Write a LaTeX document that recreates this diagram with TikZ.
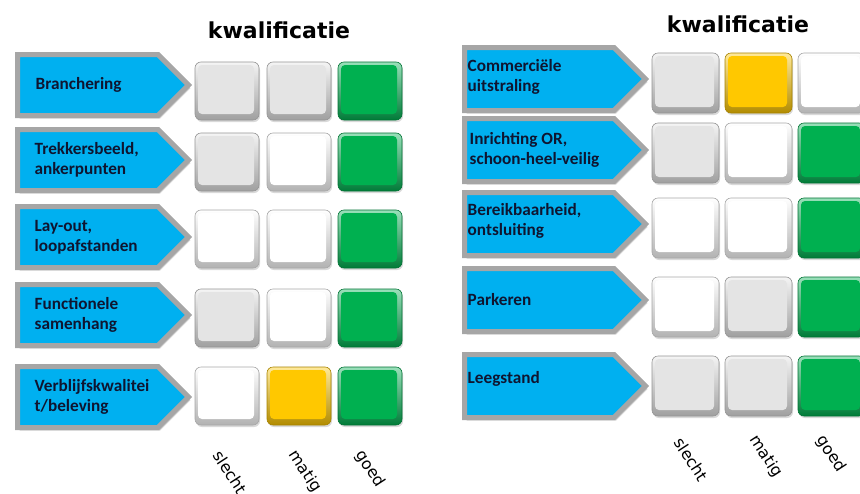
\documentclass[tikz,border=0pt]{standalone}
\usepackage{fontspec}
\setmainfont{Carlito}
\newfontfamily\kopfont{DejaVu Sans}
\usetikzlibrary{shapes.symbols, shadows, positioning}

\definecolor{pijlblauw}{HTML}{00B0F0}
\definecolor{randgrijs}{HTML}{A6A6A6}
\definecolor{tekstblauw}{HTML}{0F1530}
\definecolor{vakgrijs}{HTML}{E4E4E4}
\definecolor{vakwit}{HTML}{FFFFFF}
\definecolor{vakgeel}{HTML}{FFC800}
\definecolor{vakgroen}{HTML}{00B050}

\tikzset{
  pijl/.style={signal, signal to=east, signal pointer angle=90, draw=randgrijs,
    line width=5pt, fill=pijlblauw, inner sep=0pt, outer sep=0pt, anchor=west,
    drop shadow={shadow xshift=2pt, shadow yshift=-3pt, opacity=0.35}},
  pijltekst/.style={anchor=west, align=left, inner sep=0pt, text=tekstblauw,
    font=\bfseries\fontsize{17.2}{20}\selectfont},
  vak/.style={rounded corners=6pt, inner sep=0pt, outer sep=0pt,
    top color=#1!40!white, bottom color=#1!70!black, draw=#1!65!black, line width=0.6pt,
    drop shadow={shadow xshift=1pt, shadow yshift=-2pt, opacity=0.3},
    path picture={\fill[#1, rounded corners=4pt]
      ([shift={(3pt,-3pt)}]path picture bounding box.north west) rectangle
      ([shift={(-5pt,6pt)}]path picture bounding box.south east);}},
  linksvak/.style={vak=#1, minimum width=64pt, minimum height=58pt},
  rechtsvak/.style={vak=#1, minimum width=67pt, minimum height=60pt},
  kop/.style={font=\kopfont\bfseries\fontsize{22}{26}\selectfont, text=black},
  schaal/.style={font=\kopfont\fontsize{16}{19}\selectfont, rotate=-57,
    anchor=west, inner sep=0pt, text=black}
}

\begin{document}
\begin{tikzpicture}[x=1pt, y=-1pt]
    \useasboundingbox (0,0) rectangle (860,493);

    % Koppen
    \node[kop] (kopL) at (279,30) {kwalificatie};
    \node[kop] (kopR) at (738,24) {kwalificatie};

    % Criteria links
    \node[pijl, minimum width=171pt, minimum height=61pt,
      label={[pijltekst, xshift=18pt]west:Branchering}] (branchering) at (17.5,85) {};
    \node[pijl, minimum width=171pt, minimum height=61pt,
      label={[pijltekst, xshift=17pt]west:Trekkersbeeld,\\ankerpunten}] (trekkers) at (17.5,160) {};
    \node[pijl, minimum width=171pt, minimum height=61pt,
      label={[pijltekst, xshift=17pt]west:Lay-out,\\loopafstanden}] (layout) at (17.5,237) {};
    \node[pijl, minimum width=171pt, minimum height=61pt,
      label={[pijltekst, xshift=17pt]west:Functionele\\samenhang}] (functioneel) at (17.5,315) {};
    \node[pijl, minimum width=171pt, minimum height=61pt,
      label={[pijltekst, xshift=17pt]west:Verblijfskwalitei\\t/beleving}] (verblijf) at (17.5,397) {};

    % Criteria rechts
    \node[pijl, minimum width=181pt, minimum height=63pt,
      label={[pijltekst, xshift=3pt, yshift=2pt]west:Commerciële\\uitstraling}] (commercieel) at (464.5,79) {};
    \node[pijl, minimum width=181pt, minimum height=63pt,
      label={[pijltekst, xshift=5pt]west:Inrichting OR,\\schoon-heel-veilig}] (inrichting) at (464.5,150) {};
    \node[pijl, minimum width=181pt, minimum height=63pt,
      label={[pijltekst, xshift=3pt, yshift=3pt]west:Bereikbaarheid,\\ontsluiting}] (bereik) at (464.5,224) {};
    \node[pijl, minimum width=181pt, minimum height=63pt,
      label={[pijltekst, xshift=3pt]west:Parkeren}] (parkeren) at (464.5,300) {};
    \node[pijl, minimum width=181pt, minimum height=63pt,
      label={[pijltekst, xshift=3pt, yshift=7pt]west:Leegstand}] (leegstand) at (464.5,386) {};

    % Scores links
    \node[linksvak=vakgrijs] (branchering-s) at (227,91) {};
    \node[linksvak=vakgrijs, right=8pt of branchering-s] (branchering-m) {};
    \node[linksvak=vakgroen, right=7pt of branchering-m] (branchering-g) {};

    \node[linksvak=vakgrijs] (trekkers-s) at (227,162) {};
    \node[linksvak=vakwit, right=8pt of trekkers-s] (trekkers-m) {};
    \node[linksvak=vakgroen, right=7pt of trekkers-m] (trekkers-g) {};

    \node[linksvak=vakwit] (layout-s) at (227,239) {};
    \node[linksvak=vakwit, right=8pt of layout-s] (layout-m) {};
    \node[linksvak=vakgroen, right=7pt of layout-m] (layout-g) {};

    \node[linksvak=vakgrijs] (functioneel-s) at (227,318) {};
    \node[linksvak=vakwit, right=8pt of functioneel-s] (functioneel-m) {};
    \node[linksvak=vakgroen, right=7pt of functioneel-m] (functioneel-g) {};

    \node[linksvak=vakwit] (verblijf-s) at (227,396) {};
    \node[linksvak=vakgeel, right=8pt of verblijf-s] (verblijf-m) {};
    \node[linksvak=vakgroen, right=7pt of verblijf-m] (verblijf-g) {};

    % Scores rechts
    \node[rechtsvak=vakgrijs] (commercieel-s) at (685.5,83) {};
    \node[rechtsvak=vakgeel, right=6pt of commercieel-s] (commercieel-m) {};
    \node[rechtsvak=vakwit, right=6pt of commercieel-m] (commercieel-g) {};

    \node[rechtsvak=vakgrijs] (inrichting-s) at (685.5,153) {};
    \node[rechtsvak=vakwit, right=6pt of inrichting-s] (inrichting-m) {};
    \node[rechtsvak=vakgroen, right=6pt of inrichting-m] (inrichting-g) {};

    \node[rechtsvak=vakwit] (bereik-s) at (685.5,228) {};
    \node[rechtsvak=vakwit, right=6pt of bereik-s] (bereik-m) {};
    \node[rechtsvak=vakgroen, right=6pt of bereik-m] (bereik-g) {};

    \node[rechtsvak=vakwit] (parkeren-s) at (685.5,307) {};
    \node[rechtsvak=vakgrijs, right=6pt of parkeren-s] (parkeren-m) {};
    \node[rechtsvak=vakgroen, right=6pt of parkeren-m] (parkeren-g) {};

    \node[rechtsvak=vakgrijs] (leegstand-s) at (685.5,386) {};
    \node[rechtsvak=vakgrijs, right=6pt of leegstand-s] (leegstand-m) {};
    \node[rechtsvak=vakgroen, right=6pt of leegstand-m] (leegstand-g) {};

    % Schaal
    \node[schaal] (slechtL) at (217,452) {slecht};
    \node[schaal] (matigL) at (292,452) {matig};
    \node[schaal] (goedL) at (359,452) {goed};
    \node[schaal] (slechtR) at (678,439) {slecht};
    \node[schaal] (matigR) at (753,437) {matig};
    \node[schaal] (goedR) at (820,437) {goed};
\end{tikzpicture}
\end{document}
